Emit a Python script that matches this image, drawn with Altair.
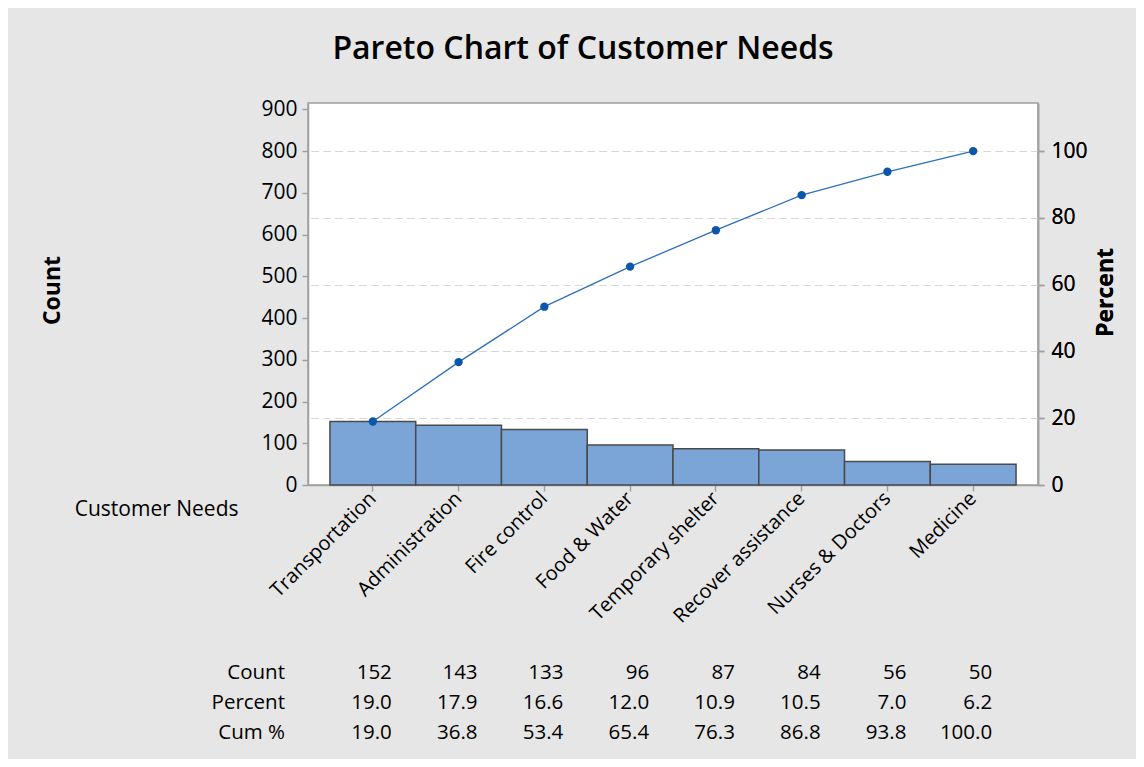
import altair as alt
import pandas as pd

categories = ["Transportation", "Administration", "Fire control", "Food & Water",
              "Temporary shelter", "Recover assistance", "Nurses & Doctors", "Medicine"]
counts = [152, 143, 133, 96, 87, 84, 56, 50]
percents = [19.0, 17.9, 16.6, 12.0, 10.9, 10.5, 7.0, 6.2]
cum_pct = [19.0, 36.8, 53.4, 65.4, 76.3, 86.8, 93.8, 100.0]
row_labels = ["Count", "Percent", "Cum %"]
count_ticks = [0, 100, 200, 300, 400, 500, 600, 700, 800, 900]
pct_ticks = [0, 20, 40, 60, 80, 100]

FONT = "Open Sans"

df = pd.DataFrame({
    "cat": categories,
    "count": counts,
    "pct": percents,
    "cum": cum_pct,
    "count_s": [str(c) for c in counts],
    "pct_s": [f"{p:.1f}" for p in percents],
    "cum_s": [f"{c:.1f}" for c in cum_pct],
})

xenc = alt.X("cat:N", sort=categories,
             scale=alt.Scale(paddingInner=0, paddingOuter=0.256),
             axis=alt.Axis(title="Customer Needs", labelAngle=315, labelAlign="right",
                           labelBaseline="middle", labelFontSize=20, labelFont=FONT,
                           labelLimit=400, labelOverlap=False,
                           labelPadding=4, tickSize=6, titleFontSize=21, titleFont=FONT,
                           titleFontWeight="normal", titleX=-70, titleY=24,
                           titleAlign="right", titleBaseline="middle", grid=False))

base = alt.Chart(df)

bars = base.mark_bar(fill="#7ba4d7", stroke="#4a4a4a", strokeWidth=1.5).encode(
    x=xenc,
    y=alt.Y("count:Q", scale=alt.Scale(domain=[0, 915], nice=False, zero=True),
            axis=alt.Axis(title="Count", values=count_ticks, grid=False, orient="left",
                          labelFontSize=21, labelFont=FONT, tickSize=6, labelPadding=5,
                          titleFontSize=23, titleFont=FONT, titleFontWeight="bold",
                          titleX=-256, titleY=187, titleAngle=270,
                          titleAlign="center", titleBaseline="middle")),
)

ysec = alt.Y("cum:Q", scale=alt.Scale(domain=[0, 114.4], nice=False, zero=True),
             axis=alt.Axis(title="Percent", values=pct_ticks, grid=True, orient="right",
                           gridDash=[7, 5], gridColor="#d6d6d6", gridWidth=1.2,
                           labelFontSize=21, labelFont=FONT, tickSize=6, labelPadding=7,
                           titleFontSize=23, titleFont=FONT, titleFontWeight="bold",
                           titleX=67, titleY=189, titleAngle=270,
                           titleAlign="center", titleBaseline="middle"))

line = base.mark_line(color="#2f6fbf", strokeWidth=1.3).encode(x=xenc, y=ysec)
pts = base.mark_point(filled=True, color="#0a56a8", size=70, opacity=1).encode(x=xenc, y=ysec)

def row(field, ypx):
    return base.mark_text(align="right", baseline="middle", fontSize=20.5, font=FONT,
                          dx=19, color="black").encode(
        x=alt.X("cat:N", sort=categories), y=alt.value(ypx), text=f"{field}:N")

t1 = row("count_s", 570)
t2 = row("pct_s", 600)
t3 = row("cum_s", 630)

lab_df = pd.DataFrame({"lab": row_labels, "yy": [570, 600, 630]})
labs = alt.Chart(lab_df).mark_text(align="right", baseline="middle", fontSize=20.5,
                                   font=FONT, color="black").encode(
    x=alt.value(-23), y=alt.Y("yy:Q", scale=None), text="lab:N")

chart = alt.layer(bars, line, pts, t1, t2, t3, labs).resolve_scale(
    y="independent"
).properties(
    width=730, height=382,
    padding={"left": 300, "top": 95, "right": 98, "bottom": 274},
    autosize=alt.AutoSizeParams(type="none"),
    background="#e6e6e6",
    title=alt.TitleParams("Pareto Chart of Customer Needs", fontSize=32, fontWeight=600,
                          font=FONT, anchor="middle", frame="group", dx=-90, offset=32,
                          color="black"),
).configure_view(
    fill="white", stroke="#a0a0a0", strokeWidth=1.5
).configure_axis(
    domainColor="#a0a0a0", tickColor="#a0a0a0", labelColor="black", titleColor="black",
    domainWidth=1.5, tickWidth=1.5
)

chart.save("out.html", embed_options={"renderer": "svg", "actions": False})
